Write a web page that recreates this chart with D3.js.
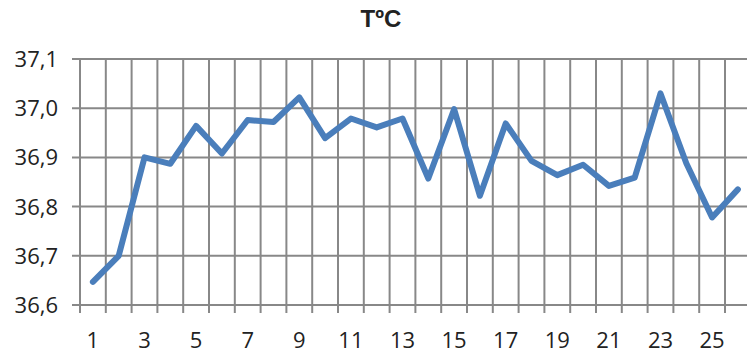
<!DOCTYPE html>
<html>
<head>
<meta charset="UTF-8">
<title>TºC</title>
<script src="https://cdn.jsdelivr.net/npm/d3@7"></script>
<style>
  body { margin: 0; background: #fff; }
  svg { display: block; }
</style>
</head>
<body>
<svg width="747" height="354"></svg>
<script>
// dias (categorias) e temperaturas
var days = d3.range(1, 27);
var temps = [36.647, 36.700, 36.900, 36.887, 36.964, 36.908, 36.976, 36.972, 37.022, 36.939,
             36.979, 36.961, 36.979, 36.857, 36.998, 36.822, 36.969, 36.893, 36.864, 36.885,
             36.842, 36.859, 37.030, 36.888, 36.778, 36.835];
var yTicks = [36.6, 36.7, 36.8, 36.9, 37.0, 37.1];
var title = "TºC";

var svg = d3.select("svg");
var plotLeft = 80, plotTop = 59, plotBottom = 305;
var step = 25.8;

// escala de categorias (o gráfico é cortado à direita)
var x = d3.scaleBand()
    .domain(days)
    .range([plotLeft, plotLeft + step * days.length])
    .paddingInner(0).paddingOuter(0);

var y = d3.scaleLinear().domain([36.6, 37.1]).range([plotBottom, plotTop]);

var grid = "#888888";
var fontTxt = "'Open Sans', 'Liberation Sans', sans-serif";

// linhas horizontais (com marca à esquerda)
svg.append("g").selectAll("line").data(yTicks).enter().append("line")
    .attr("x1", plotLeft - 8).attr("x2", 747)
    .attr("y1", function (d) { return y(d); })
    .attr("y2", function (d) { return y(d); })
    .attr("stroke", grid).attr("stroke-width", 2);

// linhas verticais nas fronteiras das categorias (com marca em baixo)
var bounds = days.map(function (d) { return x(d); });
bounds.push(x(26) + x.bandwidth());
svg.append("g").selectAll("line").data(bounds).enter().append("line")
    .attr("x1", function (d) { return d; })
    .attr("x2", function (d) { return d; })
    .attr("y1", plotTop).attr("y2", plotBottom + 8)
    .attr("stroke", grid).attr("stroke-width", 2);

// rótulos do eixo y
svg.append("g").selectAll("text").data(yTicks).enter().append("text")
    .attr("x", 58)
    .attr("y", function (d) { return y(d) + 8; })
    .attr("text-anchor", "end")
    .attr("font-family", fontTxt)
    .attr("font-size", 22)
    .attr("fill", "#222")
    .text(function (d) { return d3.format(".1f")(d).replace(".", ","); });

// rótulos do eixo x (só os ímpares)
svg.append("g").selectAll("text").data(days.filter(function (d) { return d % 2 == 1; }))
    .enter().append("text")
    .attr("x", function (d) { return x(d) + x.bandwidth() / 2; })
    .attr("y", 348)
    .attr("text-anchor", "middle")
    .attr("font-family", fontTxt)
    .attr("font-size", 22)
    .attr("fill", "#222")
    .text(function (d) { return d; });

// linha de temperaturas
var line = d3.line()
    .x(function (d, i) { return x(days[i]) + x.bandwidth() / 2; })
    .y(function (d) { return y(d); });

svg.append("path")
    .datum(temps)
    .attr("d", line)
    .attr("fill", "none")
    .attr("stroke", "#4a7ebb")
    .attr("stroke-width", 6)
    .attr("stroke-linejoin", "round")
    .attr("stroke-linecap", "round");

// título
svg.append("text")
    .attr("x", 381).attr("y", 27)
    .attr("text-anchor", "middle")
    .attr("font-family", "'Liberation Sans', Arial, sans-serif")
    .attr("font-weight", "bold")
    .attr("font-size", 24)
    .attr("fill", "#222")
    .text(title);
</script>
</body>
</html>
